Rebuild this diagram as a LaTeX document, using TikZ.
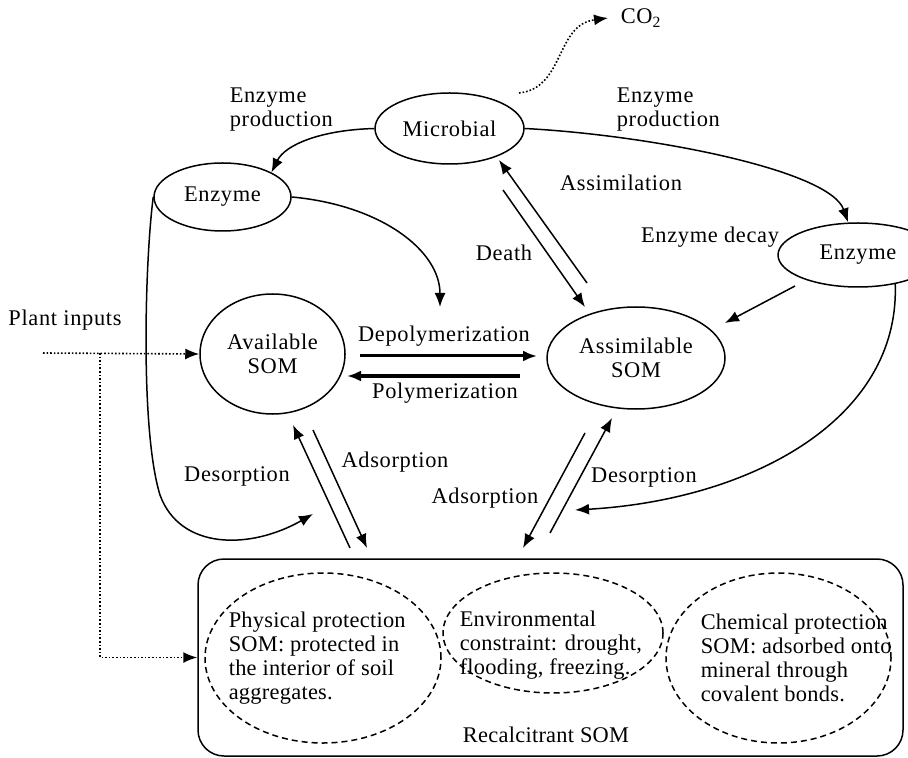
\documentclass[tikz,border=0pt]{standalone}
\usepackage{fontspec}
\setmainfont[LetterSpace=3]{Liberation Serif}
\newfontfamily\boxserif[LetterSpace=1.2]{Liberation Serif}
\usetikzlibrary{arrows.meta,shapes.geometric}
\begin{document}
\begin{tikzpicture}[x=0.5pt,y=-0.5pt,
  font=\fontsize{11.2}{12}\selectfont,
  line width=0.75pt,
  arr/.style={-{Latex[length=7pt,width=5.5pt]}},
  oval/.style={draw,ellipse,inner sep=0pt,align=center},
  dov/.style={draw,ellipse,dash pattern=on 3pt off 2pt,inner sep=0pt},
  thickarr/.style={arr,line width=1.5pt},
  txt/.style={inner sep=0pt,align=left},
  btxt/.style={txt,anchor=west,font=\boxserif\fontsize{11.2}{12}\selectfont},
  dot/.style={densely dotted,line width=0.8pt}]
\useasboundingbox (0,0) rectangle (908,758);

% main nodes
\node[oval,minimum width=74.5pt,minimum height=35.5pt] (micro) at (449.5,128.5) {Microbial};
\node[oval,minimum width=68.5pt,minimum height=34pt] (enzL) at (222.5,197) {Enzyme};
\node[oval,minimum width=80pt,minimum height=32pt] (enzR) at (858,255) {Enzyme};
\node[oval,minimum width=72.5pt,minimum height=60pt] (avail) at (272.5,354) {Available\\SOM};
\node[oval,minimum width=89pt,minimum height=51pt] (assim) at (636,358) {Assimilable\\SOM};
\node[draw,rounded corners=13pt,minimum width=352.5pt,minimum height=98.5pt,inner sep=0pt] (recal) at (550.5,657.5) {};

% dashed ellipses
\node[dov,minimum width=118pt,minimum height=85pt] (phys) at (323,658) {};
\node[dov,minimum width=110pt,minimum height=60pt] (env) at (553,633) {};
\node[dov,minimum width=112.5pt,minimum height=85pt] (chem) at (778.5,658) {};
\node[btxt] (physT) at (228,658) {Physical protection\\SOM: protected in\\the interior of soil\\aggregates.};
\node[btxt] (envT) at (459,645) {Environmental\\constraint: drought,\\flooding, freezing.};
\node[btxt] (chemT) at (700,658) {Chemical protection\\SOM: adsorbed onto\\mineral through\\covalent bonds.};
\node[font=\boxserif\fontsize{11.2}{12}\selectfont] (recalT) at (546,735) {Recalcitrant SOM};

% labels
\node[txt,anchor=west] (lpL) at (229,110) {Enzyme\\production};
\node[txt,anchor=west] (lpR) at (616,110) {Enzyme\\production};
\node (lassim) at (621,183) {Assimilation};
\node (ldecay) at (710,237) {Enzyme decay};
\node (ldeath) at (504,253) {Death};
\node (ldepol) at (444,336) {Depolymerization};
\node (lpol) at (445,393) {Polymerization};
\node (lplant) at (65,320) {Plant inputs};
\node (ldesL) at (237,476) {Desorption};
\node (ladsL) at (395,462) {Adsorption};
\node (ladsR) at (485,498) {Adsorption};
\node (ldesR) at (644,477) {Desorption};
\node[anchor=west,inner sep=0pt] (co2) at (620,18) {CO\textsubscript{2}};

% coordinates
\coordinate (co2s) at (519,93);
\coordinate (e2d) at (440,307);
\coordinate (desLtip) at (313,514);
\coordinate (desRtip) at (575,510);
\coordinate (dpA) at (360,356); \coordinate (dpB) at (537,356);
\coordinate (plA) at (520,376); \coordinate (plB) at (347,376);
\coordinate (asA) at (587,283); \coordinate (asB) at (499,160);
\coordinate (dtA) at (503,190); \coordinate (dtB) at (585,307);
\coordinate (edA) at (795,286); \coordinate (edB) at (725,323);
\coordinate (avDA) at (350,548); \coordinate (avDB) at (293,425);
\coordinate (avAA) at (313,430); \coordinate (avAB) at (367,548);
\coordinate (amAA) at (585,433); \coordinate (amAB) at (523,548);
\coordinate (amDA) at (550,533); \coordinate (amDB) at (612,418);
\coordinate (pA) at (43,353); \coordinate (pB) at (100,353);

% connectors
\draw[dot,arr] (co2s) .. controls (565,88) and (555,25) .. ([xshift=-6pt]co2.west);
\draw[arr] (micro.west) .. controls (320,130) and (285,145) .. (enzL.north east);
\draw[arr] (micro.east) .. controls (650,135) and (830,170) .. ([xshift=-5pt]enzR.north);
\draw[arr] (enzL.east) .. controls (380,205) and (440,250) .. (e2d);
\draw[arr] (enzL.west) .. controls (145,260) and (140,430) .. (160,495) .. controls (180,550) and (250,550) .. (desLtip);
\draw[arr] (enzR.-38) .. controls (900,420) and (750,500) .. (desRtip);
\draw[thickarr] (dpA) -- (dpB);
\draw[thickarr] (plA) -- (plB);
\draw[arr] (asA) -- (asB);
\draw[arr] (dtA) -- (dtB);
\draw[arr] (edA) -- (edB);
\draw[arr] (avDA) -- (avDB);
\draw[arr] (avAA) -- (avAB);
\draw[arr] (amAA) -- (amAB);
\draw[arr] (amDA) -- (amDB);
\draw[dot,arr] (pA) -- (avail.west);
\draw[dot,arr] (pB) |- (recal.west);
\end{tikzpicture}
\end{document}
